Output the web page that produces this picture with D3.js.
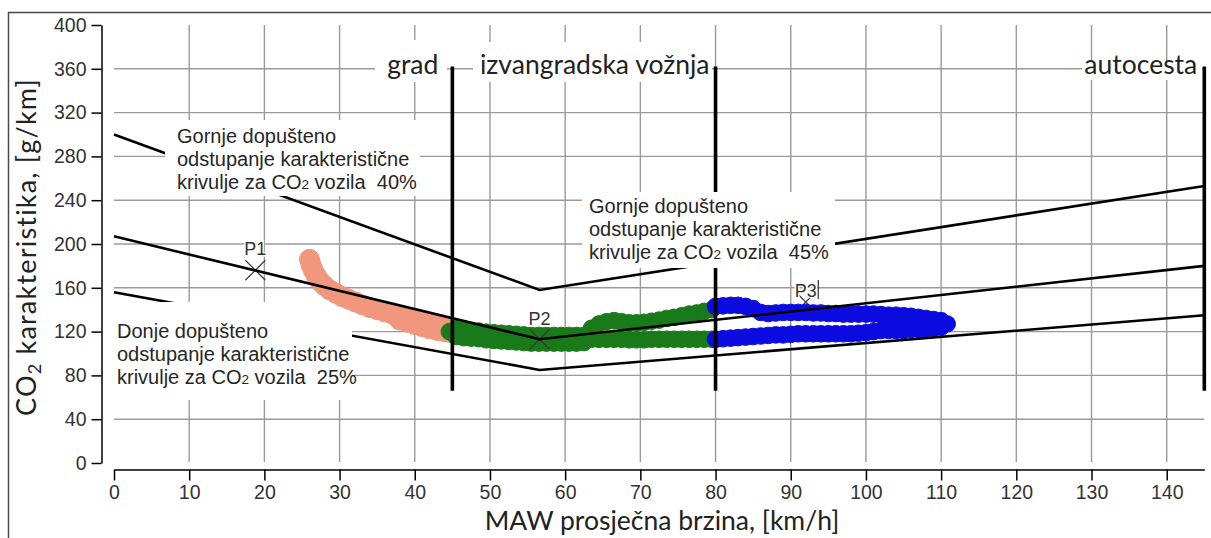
<!DOCTYPE html>
<html>
<head>
<meta charset="utf-8">
<script src="https://cdn.jsdelivr.net/npm/d3@7"></script>
<style>
  html, body { margin: 0; padding: 0; background: #fff; }
  svg { display: block; }
  text { white-space: pre; }
</style>
</head>
<body>
<svg id="chart" width="1211" height="538"></svg>
<script>
// ---- axis ticks ----
const speedTicks = [0, 10, 20, 30, 40, 50, 60, 70, 80, 90, 100, 110, 120, 130, 140];
const co2Ticks = [0, 40, 80, 120, 160, 200, 240, 280, 320, 360, 400];

// ---- characteristic curve and its permitted deviation bands [speed, co2] ----
const upperLimit = [[0, 300], [56.6, 158], [145, 253]];
const referenceCurve = [[0, 207], [56.6, 113], [145, 180]];
const lowerLimit = [[0, 156], [56.6, 85], [145, 135]];

// ---- driving-zone boundaries (km/h) and names ----
const zoneBounds = [45, 80, 145];
const zoneNames = ["grad", "izvangradska vožnja", "autocesta"];
const zoneLineSpan = [66, 362];

// ---- reference points ----
const refPoints = [
  { name: "P1", speed: 18.8, co2: 176 },
  { name: "P2", speed: 56.6, co2: 113 },
  { name: "P3", speed: 92, co2: 147 }
];

// ---- moving-average windows [speed, co2] ----
const urbanWindows = [
  [26, 186], [26.2, 181], [26.5, 176], [26.9, 171], [27.4, 166], [28, 162], [28.7, 158],
  [29.5, 155], [30.3, 152], [31.2, 149.5], [32.1, 147], [33, 144.5], [34, 142], [35, 140],
  [36, 138], [37, 136], [38, 134], [39, 132], [40, 130], [41, 128.5], [42, 127], [43, 125.5],
  [44, 124], [44.8, 123],
  [38, 130.5], [39, 128.5], [40, 126.5], [41, 124.5], [42, 122.5], [43, 121], [44, 120],
  [44.8, 119]
];
const ruralWindows = [
  [44.6, 120], [45.5, 122.5], [46.5, 121.5], [47.5, 121], [48.5, 120.5], [49.5, 119.5],
  [50.5, 119], [51.5, 118.5], [52.5, 118], [53.5, 117.5], [54.5, 117], [55.5, 116.5],
  [56.5, 116.5], [57.5, 116.5], [58.5, 116.5], [59.5, 116.5], [60.5, 116.5], [61.5, 116.5],
  [62.5, 116.5],
  [45.5, 115.5], [46.5, 114.5], [47.5, 114], [48.5, 113.5], [49.5, 112.5], [50.5, 112],
  [51.5, 111.5], [52.5, 111], [53.5, 110.5], [54.5, 110], [55.5, 109.5], [56.5, 109.5],
  [57.5, 109.5], [58.5, 109.5], [59.5, 109.5], [60.5, 109.5], [61.5, 109.5], [62.5, 110],
  [63.5, 113], [64.5, 113], [65.5, 113], [66.5, 113], [67.5, 113], [68.5, 112.5],
  [69.5, 112.5], [70.5, 112.5], [71.5, 113], [72.5, 113], [73.5, 113], [74.5, 113],
  [75.5, 113], [76.5, 113], [77.5, 113], [78.5, 113], [79.5, 113],
  [63.5, 123], [64.5, 127], [65.5, 129], [66.5, 130], [67.5, 129], [68.5, 128], [69.5, 128],
  [70.5, 128.5], [71.5, 129.5], [72.5, 130.5], [73.5, 132], [74.5, 133], [75.5, 134.5],
  [76.5, 136], [77.5, 137], [78.5, 138.5], [79.5, 140]
];
const motorwayWindows = [
  [80, 143], [81, 143.5], [82, 144], [83, 144], [84, 143], [85, 141], [86, 137.5],
  [87, 136.5], [88, 137], [89, 137.5], [90, 137.5], [91, 137.5], [92, 137.5], [93, 137],
  [94, 137], [95, 136.5], [96, 136.5], [97, 136], [98, 136], [99, 136], [100, 136],
  [101, 136], [102, 135.5], [103, 135], [104, 135], [105, 134.5], [106, 134], [107, 133],
  [108, 132], [109, 131], [110, 130],
  [80, 113], [81, 113.5], [82, 114], [83, 114.5], [84, 115], [85, 115.5], [86, 116],
  [87, 116.5], [88, 117], [89, 117], [90, 117.5], [91, 118], [92, 118], [93, 118],
  [94, 118], [95, 118], [96, 118], [97, 118], [98, 118], [99, 118.5], [100, 119],
  [101, 120], [102, 121], [103, 121], [104, 121], [105, 121], [106, 122], [107, 122],
  [108, 122.5], [109, 123], [110, 124], [110.8, 127],
  [103, 128], [104, 128], [105, 128], [106, 128], [107, 128], [108, 128], [109, 127], [110, 127]
];

// ---- annotation texts ----
const upperUrbanNote = ["Gornje dopušteno", "odstupanje karakteristične", ["krivulje za CO", "2", " vozila\u00a0 40%"]];
const upperRuralNote = ["Gornje dopušteno", "odstupanje karakteristične", ["krivulje za CO", "2", " vozila\u00a0 45%"]];
const lowerNote = ["Donje dopušteno", "odstupanje karakteristične", ["krivulje za CO", "2", " vozila\u00a0 25%"]];

// ---------------------------------------------------------------
const svg = d3.select("#chart");
const W = 1211, H = 538;
const sansFont = "'Liberation Sans', Arial, sans-serif";
const titleFont = "Lato, 'Open Sans', sans-serif";

const x = d3.scaleLinear().domain([0, 145]).range([114, 1204.3]);
const y = d3.scaleLinear().domain([0, 400]).range([463, 25]);

// text blocks: anchor, baselines and the area they keep clear of lines
const notes = [
  { lines: upperUrbanNote, tx: 177, baselines: [143, 166, 189], box: [165, 120, 420, 196] },
  { lines: upperRuralNote, tx: 589, baselines: [213, 236, 259], box: [582, 192, 835, 268] },
  { lines: lowerNote, tx: 117, baselines: [338, 361, 384], box: [106, 302, 352, 400] }
];
const zoneLabelLayout = [
  { dx: -14, box: [375, 40, 447, 82] },
  { dx: -6, box: [473, 42, 712, 82] },
  { dx: -7, box: [1082, 61, 1202, 80] }
];

svg.append("rect").attr("width", W).attr("height", H).attr("fill", "#fff");

// mask that clears grid and curves behind the text blocks
const mask = svg.append("defs").append("mask").attr("id", "textClear")
  .attr("maskUnits", "userSpaceOnUse").attr("x", 0).attr("y", 0).attr("width", W).attr("height", H);
mask.append("rect").attr("width", W).attr("height", H).attr("fill", "#fff");
notes.map(n => n.box).concat(zoneLabelLayout.map(z => z.box)).forEach(b => {
  mask.append("rect").attr("x", b[0]).attr("y", b[1])
    .attr("width", b[2] - b[0]).attr("height", b[3] - b[1]).attr("fill", "#000");
});

// outer frame
svg.append("rect")
  .attr("x", 8.5).attr("y", 12.5).attr("width", W + 20).attr("height", H + 20)
  .attr("fill", "none").attr("stroke", "#4a4a4a").attr("stroke-width", 1.5);

// grid
const grid = svg.append("g").attr("mask", "url(#textClear)")
  .attr("stroke", "#9a9a9a").attr("stroke-width", 1.4);
grid.selectAll("line.v").data(speedTicks.filter(d => d > 0)).join("line")
  .attr("class", "v")
  .attr("x1", d => x(d)).attr("x2", d => x(d))
  .attr("y1", y(400)).attr("y2", y(0) - 1);
grid.selectAll("line.h").data(co2Ticks.filter(d => d > 0 && d < 400)).join("line")
  .attr("class", "h")
  .attr("x1", x(0)).attr("x2", x(145))
  .attr("y1", d => y(d)).attr("y2", d => y(d));

// scatter layers
function drawWindows(data, color, r) {
  svg.append("g").selectAll("circle").data(data).join("circle")
    .attr("cx", d => x(d[0])).attr("cy", d => y(d[1])).attr("r", r)
    .attr("fill", color).attr("stroke", color).attr("stroke-width", 1);
}
drawWindows(urbanWindows, "#f1977e", 10);
drawWindows(ruralWindows, "#197a19", 8.3);

// reference-point crosses
const cross = 10;
const marks = svg.append("g").attr("stroke", "#3a3a3a").attr("stroke-width", 1.2);
refPoints.forEach(p => {
  const cx = x(p.speed), cy = y(p.co2);
  marks.append("line").attr("x1", cx - cross).attr("y1", cy - cross).attr("x2", cx + cross).attr("y2", cy + cross);
  marks.append("line").attr("x1", cx - cross).attr("y1", cy + cross).attr("x2", cx + cross).attr("y2", cy - cross);
});

drawWindows(motorwayWindows, "#0c0ce0", 8.3);

// characteristic curves
const line = d3.line().x(d => x(d[0])).y(d => y(d[1]));
svg.append("g").attr("mask", "url(#textClear)")
  .attr("fill", "none").attr("stroke", "#000").attr("stroke-width", 2.6)
  .selectAll("path").data([upperLimit, referenceCurve, lowerLimit]).join("path")
  .attr("d", line);

// zone boundaries
svg.append("g").attr("mask", "url(#textClear)")
  .attr("stroke", "#000").attr("stroke-width", 3.6)
  .selectAll("line").data(zoneBounds).join("line")
  .attr("x1", d => x(d)).attr("x2", d => x(d))
  .attr("y1", y(zoneLineSpan[1])).attr("y2", y(zoneLineSpan[0]));

// annotation texts
notes.forEach(n => {
  n.lines.forEach((ln, i) => {
    const t = svg.append("text").attr("x", n.tx).attr("y", n.baselines[i])
      .attr("font-family", sansFont).attr("font-size", 20).attr("fill", "#262626");
    if (Array.isArray(ln)) {
      t.append("tspan").text(ln[0]);
      t.append("tspan").attr("font-size", 13.5).text(ln[1]);
      t.append("tspan").text(ln[2]);
    } else {
      t.text(ln);
    }
  });
});

// zone names
zoneNames.forEach((name, i) => {
  svg.append("text")
    .attr("x", x(zoneBounds[i]) + zoneLabelLayout[i].dx).attr("y", 74)
    .attr("text-anchor", "end")
    .attr("font-family", titleFont).attr("font-size", 26.5).attr("fill", "#222")
    .text(name);
});

// reference-point labels
const labelLift = { P1: 15, P2: 14, P3: 5 };
refPoints.forEach(p => {
  svg.append("text")
    .attr("x", x(p.speed)).attr("y", y(p.co2) - labelLift[p.name])
    .attr("text-anchor", "middle")
    .attr("font-family", sansFont).attr("font-size", 18).attr("fill", "#333")
    .attr("stroke", "#fff").attr("stroke-width", 3).attr("paint-order", "stroke")
    .text(p.name);
});
{
  const p3 = refPoints[2];
  svg.append("line")
    .attr("x1", x(p3.speed) + 12.5).attr("x2", x(p3.speed) + 12.5)
    .attr("y1", y(p3.co2) - 22).attr("y2", y(p3.co2) - 3)
    .attr("stroke", "#333").attr("stroke-width", 1.2);
}

// axes
const yAxis = svg.append("g").attr("transform", "translate(101.5,0)")
  .call(d3.axisLeft(y).tickValues(co2Ticks).tickSize(10).tickPadding(5).tickSizeOuter(0));
const xAxis = svg.append("g").attr("transform", "translate(0,469.5)")
  .call(d3.axisBottom(x).tickValues(speedTicks).tickSize(11).tickPadding(5).tickSizeOuter(0));
[yAxis, xAxis].forEach(a => {
  a.selectAll("path.domain").attr("stroke", "#000").attr("stroke-width", 1.5);
  a.selectAll(".tick line").attr("stroke", "#000").attr("stroke-width", 1.5);
  a.selectAll(".tick text").attr("font-family", sansFont).attr("font-size", 19.5).attr("fill", "#333");
});

// axis titles
const yTitle = svg.append("text")
  .attr("transform", "translate(36,247) rotate(-90)")
  .attr("text-anchor", "middle")
  .attr("font-family", titleFont).attr("font-size", 27).attr("letter-spacing", 1.2)
  .attr("fill", "#222");
yTitle.append("tspan").text("CO");
yTitle.append("tspan").attr("font-size", 18).attr("dy", 5).text("2");
yTitle.append("tspan").attr("dy", -5).text(" karakteristika, [g/km]");

svg.append("text")
  .attr("x", 662).attr("y", 530)
  .attr("text-anchor", "middle")
  .attr("font-family", titleFont).attr("font-size", 26.5).attr("fill", "#222")
  .text("MAW prosječna brzina, [km/h]");
</script>
</body>
</html>
